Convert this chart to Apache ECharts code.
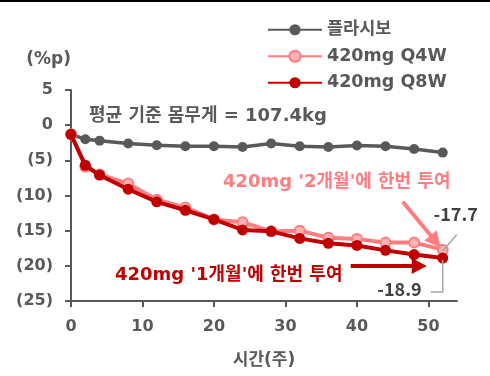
<!DOCTYPE html>
<html>
<head>
<meta charset="utf-8">
<script src="https://cdn.jsdelivr.net/npm/echarts@6/dist/echarts.min.js"></script>
<style>
  html, body { margin: 0; padding: 0; background: #fff; }
  #chart { width: 490px; height: 376px; }
</style>
</head>
<body>
<div id="chart"></div>
<script>
// Weeks of treatment and mean body-weight change (%p) from baseline
const weeks   = [0, 2, 4, 8, 12, 16, 20, 24, 28, 32, 36, 40, 44, 48, 52];
const placebo = [-1.3, -2.0, -2.2, -2.6, -2.85, -3.0, -3.0, -3.1, -2.6, -3.0, -3.1, -2.9, -3.0, -3.4, -3.9];
const q4w     = [-1.3, -5.9, -7.0, -8.3, -10.6, -11.7, -13.4, -13.8, -15.1, -15.0, -16.0, -16.2, -16.7, -16.7, -17.7];
const q8w     = [-1.3, -5.7, -7.1, -9.1, -10.9, -12.1, -13.4, -14.9, -15.1, -16.1, -16.8, -17.1, -17.8, -18.4, -18.9];
const xTicks  = [0, 10, 20, 30, 40, 50];
const seriesNames = ['플라시보', '420mg Q4W', '420mg Q8W'];

const FONT = '"DejaVu Sans", "Noto Sans CJK KR", sans-serif';
const NUM_FONT = '"Noto Sans CJK KR", "Noto Sans", sans-serif';
const GRAY = '#595959';
const PINK = '#FF7C80';
const RED  = '#C00000';

const pairs = arr => weeks.map((w, i) => [w, arr[i]]);

const chart = echarts.init(document.getElementById('chart'));

chart.setOption({
  animation: false,
  textStyle: { fontFamily: FONT },
  grid: { left: 71, right: 33, top: 90, bottom: 75, containLabel: false },
  legend: {
    orient: 'vertical',
    left: 262,
    top: 16,
    itemWidth: 54,
    itemHeight: 14,
    itemGap: 9,
    textStyle: { fontFamily: FONT, fontSize: 17.5, fontWeight: 'bold', color: GRAY },
    data: seriesNames
  },
  xAxis: {
    type: 'value',
    min: 0,
    max: 54,
    interval: 10,
    name: '시간(주)',
    nameLocation: 'middle',
    nameGap: 51,
    nameTextStyle: { fontFamily: FONT, fontSize: 17, fontWeight: 'bold', color: GRAY },
    axisLine: { show: true, onZero: false, lineStyle: { color: GRAY, width: 2 } },
    axisTick: { show: true, length: 6, customValues: xTicks, lineStyle: { color: GRAY, width: 2 } },
    axisLabel: { customValues: xTicks, margin: 18, fontFamily: FONT, fontSize: 16, fontWeight: 'bold', color: GRAY },
    splitLine: { show: false }
  },
  yAxis: {
    type: 'value',
    min: -25,
    max: 5,
    interval: 5,
    name: '(%p)',
    nameLocation: 'end',
    nameGap: 30,
    nameTextStyle: { fontFamily: FONT, fontSize: 17, fontWeight: 'bold', color: GRAY, align: 'right', verticalAlign: 'middle' },
    axisLine: { show: true, onZero: false, lineStyle: { color: GRAY, width: 2 } },
    axisTick: { show: true, length: 6, lineStyle: { color: GRAY, width: 2 } },
    axisLabel: {
      margin: 18,
      fontFamily: FONT, fontSize: 16, fontWeight: 'bold', color: GRAY,
      formatter: v => (v < 0 ? '(' + Math.abs(v) + ')' : String(v))
    },
    splitLine: { show: false }
  },
  series: [
    {
      name: seriesNames[0],
      type: 'line',
      data: pairs(placebo),
      symbol: 'circle',
      symbolSize: 10,
      lineStyle: { color: GRAY, width: 3.5 },
      itemStyle: { color: GRAY },
      z: 2
    },
    {
      name: seriesNames[1],
      type: 'line',
      data: pairs(q4w),
      symbol: 'circle',
      symbolSize: 10,
      lineStyle: { color: PINK, width: 4 },
      itemStyle: { color: '#FFB3B5', borderColor: PINK, borderWidth: 2 },
      z: 3
    },
    {
      name: seriesNames[2],
      type: 'line',
      data: pairs(q8w),
      symbol: 'circle',
      symbolSize: 11,
      lineStyle: { color: RED, width: 4 },
      itemStyle: { color: RED },
      z: 4
    }
  ]
});

// Annotations: callout texts, pointer arrows and end-value labels
function arrow(from, to, color, width, headLen, headHalf) {
  const dx = to[0] - from[0], dy = to[1] - from[1];
  const len = Math.sqrt(dx * dx + dy * dy);
  const ux = dx / len, uy = dy / len;
  const bx = to[0] - ux * headLen, by = to[1] - uy * headLen;
  return [
    { type: 'line', shape: { x1: from[0], y1: from[1], x2: bx + ux, y2: by + uy },
      style: { stroke: color, lineWidth: width }, z: 10 },
    { type: 'polygon', shape: { points: [
        [to[0], to[1]],
        [bx - uy * headHalf, by + ux * headHalf],
        [bx + uy * headHalf, by - ux * headHalf]
      ] }, style: { fill: color }, z: 10 }
  ];
}

const last = weeks.length - 1;
const pQ4 = chart.convertToPixel({ gridIndex: 0 }, [weeks[last], q4w[last]]);
const pQ8 = chart.convertToPixel({ gridIndex: 0 }, [weeks[last], q8w[last]]);

const textStyle = (color, family, size) => ({ fontFamily: family || FONT, fontSize: size || 18, fontWeight: 'bold', fill: color });

const elements = [
  { type: 'rect', shape: { x: 0, y: 0, width: 490, height: 2 }, style: { fill: '#000' }, z: 20 },
  { type: 'text', x: 89, y: 116, style: Object.assign({ text: '평균 기준 몸무게 = 107.4kg', verticalAlign: 'middle', align: 'left' }, textStyle(GRAY)), z: 10 },
  { type: 'text', x: 223, y: 182, style: Object.assign({ text: "420mg '2개월'에 한번 투여", verticalAlign: 'middle', align: 'left' }, textStyle(PINK)), z: 10 },
  { type: 'text', x: 115, y: 275, style: Object.assign({ text: "420mg '1개월'에 한번 투여", verticalAlign: 'middle', align: 'left' }, textStyle(RED)), z: 10 },
  // end-value labels with leader lines
  { type: 'polyline', shape: { points: [[pQ4[0] + 0, pQ4[1] + 1], [pQ4[0] + 14, pQ4[1] - 15]] },
    style: { stroke: '#A6A6A6', lineWidth: 1.5 }, z: 9 },
  { type: 'text', x: pQ4[0] + 13, y: pQ4[1] - 36, style: Object.assign({ text: String(q4w[last]), verticalAlign: 'middle', align: 'center' }, textStyle('#404040', NUM_FONT, 18)), z: 10 },
  { type: 'polyline', shape: { points: [[pQ8[0], pQ8[1] + 2], [pQ8[0], pQ8[1] + 34], [pQ8[0] - 12, pQ8[1] + 34]] },
    style: { stroke: '#A6A6A6', lineWidth: 1.5 }, z: 9 },
  { type: 'text', x: pQ8[0] - 21, y: pQ8[1] + 31, style: Object.assign({ text: String(q8w[last]), verticalAlign: 'middle', align: 'right' }, textStyle('#404040', NUM_FONT, 18)), z: 10 }
];

elements.push(...arrow([pQ4[0] - 40, pQ4[1] - 48], [pQ4[0] - 2, pQ4[1] - 2], PINK, 4, 16, 8));
elements.push(...arrow([pQ8[0] - 92, pQ8[1] + 8], [pQ8[0] - 16, pQ8[1] + 8], RED, 4, 15, 8));

chart.setOption({ graphic: { elements } });
</script>
</body>
</html>
